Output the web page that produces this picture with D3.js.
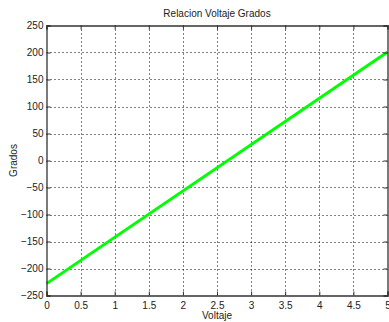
<!DOCTYPE html>
<html>
<head>
<meta charset="utf-8">
<script src="https://cdn.jsdelivr.net/npm/d3@7"></script>
<style>
  body { margin: 0; background: #fff; }
  svg { display: block; font-family: "Liberation Sans", Arial, sans-serif; }
</style>
</head>
<body>
<div id="chart"></div>
<script>
// data
var voltaje = [0, 5];
var grados = [-228, 201];
var xTicks = [0, 0.5, 1, 1.5, 2, 2.5, 3, 3.5, 4, 4.5, 5];
var yTicks = [-250, -200, -150, -100, -50, 0, 50, 100, 150, 200, 250];

var W = 389, H = 322;
var m = { left: 46.5, right: 1.5, top: 25.5, bottom: 26.5 };

var svg = d3.select('#chart').append('svg')
    .attr('width', W)
    .attr('height', H);

var x = d3.scaleLinear().domain([0, 5]).range([m.left, W - m.right]);
var y = d3.scaleLinear().domain([-250, 250]).range([H - m.bottom, m.top]);

// grid
var grid = svg.append('g')
    .attr('stroke', '#000')
    .attr('stroke-width', 1)
    .attr('stroke-dasharray', '1,3');
grid.selectAll('line.gx')
    .data(xTicks.slice(1, -1))
    .enter().append('line')
    .attr('x1', function (d) { return Math.round(x(d)) + 0.5; })
    .attr('x2', function (d) { return Math.round(x(d)) + 0.5; })
    .attr('y1', y(250))
    .attr('y2', y(-250));
grid.selectAll('line.gy')
    .data(yTicks.slice(1, -1))
    .enter().append('line')
    .attr('y1', function (d) { return Math.round(y(d)) + 0.5; })
    .attr('y2', function (d) { return Math.round(y(d)) + 0.5; })
    .attr('x1', x(0))
    .attr('x2', x(5));

// line
svg.append('path')
    .datum(voltaje.map(function (v, i) { return [v, grados[i]]; }))
    .attr('fill', 'none')
    .attr('stroke', '#00ff00')
    .attr('stroke-width', 3)
    .attr('d', d3.line()
        .x(function (d) { return x(d[0]); })
        .y(function (d) { return y(d[1]); }));

// axes (ticks inward)
var axBottom = svg.append('g')
    .attr('transform', 'translate(0,' + y(-250) + ')')
    .call(d3.axisBottom(x).tickValues(xTicks).tickSize(-4).tickPadding(6).tickFormat(d3.format('')));
var axLeft = svg.append('g')
    .attr('transform', 'translate(' + x(0) + ',0)')
    .call(d3.axisLeft(y).tickValues(yTicks).tickSize(-4).tickPadding(3).tickFormat(d3.format('')));
var axTop = svg.append('g')
    .attr('transform', 'translate(0,' + y(250) + ')')
    .call(d3.axisTop(x).tickValues(xTicks).tickSize(-4).tickFormat(''));
var axRight = svg.append('g')
    .attr('transform', 'translate(' + x(5) + ',0)')
    .call(d3.axisRight(y).tickValues(yTicks).tickSize(-4).tickFormat(''));

[axBottom, axLeft, axTop, axRight].forEach(function (g) {
    g.select('.domain').attr('stroke', '#333').attr('stroke-width', 1.3);
    g.selectAll('.tick line').attr('stroke', '#333');
    g.selectAll('.tick text')
        .attr('fill', '#222')
        .style('font-size', '10px')
        .style('font-family', '"Liberation Sans", Arial, sans-serif');
});

// labels
svg.append('text')
    .attr('x', (m.left + W - m.right) / 2)
    .attr('y', 17)
    .attr('text-anchor', 'middle')
    .style('font-size', '10px')
    .attr('fill', '#222')
    .text('Relacion Voltaje Grados');

svg.append('text')
    .attr('x', (m.left + W - m.right) / 2)
    .attr('y', 319)
    .attr('text-anchor', 'middle')
    .style('font-size', '10px')
    .attr('fill', '#222')
    .text('Voltaje');

svg.append('text')
    .attr('transform', 'translate(17,' + y(0) + ') rotate(-90)')
    .attr('text-anchor', 'middle')
    .style('font-size', '10px')
    .attr('fill', '#222')
    .text('Grados');
</script>
</body>
</html>
